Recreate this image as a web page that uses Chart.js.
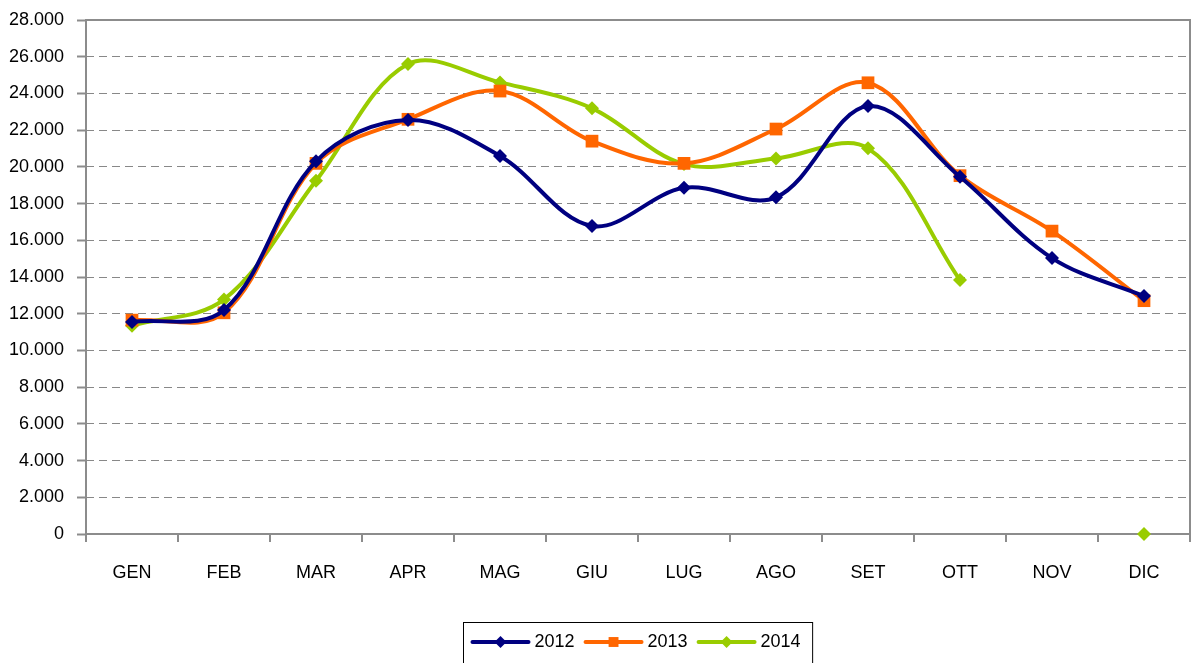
<!DOCTYPE html>
<html><head><meta charset="utf-8">
<script src="https://cdn.jsdelivr.net/npm/chart.js@4/dist/chart.umd.min.js"></script>
<style>html,body{margin:0;padding:0;background:#fff;overflow:hidden}#wrap{width:1192px;height:663px;position:relative}</style>
</head><body><div id="wrap"><canvas id="c" width="1192" height="663"></canvas></div>
<script>
const categories = ['GEN','FEB','MAR','APR','MAG','GIU','LUG','AGO','SET','OTT','NOV','DIC'];
const seriesNames = ['2012','2013','2014'];
const values2012 = [11550, 12200, 20300, 22550, 20590, 16780, 18860, 18340, 23310, 19460, 15030, 12960];
const values2013 = [11650, 12050, 20190, 22590, 24130, 21400, 20190, 22060, 24580, 19520, 16500, 12710];
const values2014 = [11350, 12780, 19240, 25600, 24600, 23190, 20150, 20460, 21010, 13830, null, 0];
const yMin = 0, yMax = 28000, yStep = 2000;

const FONT = 'Arial, "Liberation Sans", sans-serif';
const fmt = v => String(v).replace(/\B(?=(\d{3})+(?!\d))/g, '.');

const styles = [
  {color:'#000080', pointStyle:'rectRot', radius:7, legendRadius:6},
  {color:'#FF6600', pointStyle:'rect', radius:9, legendRadius:7},
  {color:'#99CC00', pointStyle:'rectRot', radius:7, legendRadius:6}
];
const seriesValues = [values2012, values2013, values2014];

const datasets = seriesValues.map((vals, i) => ({
  label: seriesNames[i],
  data: vals,
  borderColor: styles[i].color,
  backgroundColor: styles[i].color,
  pointBackgroundColor: styles[i].color,
  pointBorderColor: styles[i].color,
  pointStyle: styles[i].pointStyle,
  pointRadius: styles[i].radius,
  pointBorderWidth: 0,
  pointHoverRadius: styles[i].radius,
  borderWidth: 4,
  tension: 0.35,
  spanGaps: false,
  clip: false
}));

const plotBorder = {
  id: 'plotBorder',
  beforeDatasetsDraw(chart) {
    const {ctx, chartArea: a} = chart;
    ctx.save();
    ctx.strokeStyle = '#8c8c8c';
    ctx.lineWidth = 2;
    ctx.strokeRect(a.left, a.top, a.right - a.left, a.bottom - a.top);
    ctx.restore();
  }
};

const customLegend = {
  id: 'customLegend',
  afterDraw(chart) {
    const {ctx, chartArea: a} = chart;
    ctx.save();
    ctx.font = '18px ' + FONT;
    const sample = 56, gapText = 6, gapItem = 11, padL = 9, padR = 12;
    let total = padL + padR;
    const widths = chart.data.datasets.map(d => ctx.measureText(d.label).width);
    widths.forEach((w, i) => { total += sample + gapText + w + (i < widths.length - 1 ? gapItem : 0); });
    const cx = (a.left + a.right) / 2;
    const left = Math.round(cx - total / 2) + 0.5;
    const top = 622.5, cy = 642;
    ctx.strokeStyle = '#000';
    ctx.lineWidth = 1;
    ctx.strokeRect(left, top, total, 50);
    let x = left + padL;
    chart.data.datasets.forEach((d, i) => {
      ctx.strokeStyle = d.borderColor;
      ctx.lineWidth = 4;
      ctx.lineCap = 'round';
      ctx.beginPath(); ctx.moveTo(x, cy); ctx.lineTo(x + sample, cy); ctx.stroke();
      ctx.fillStyle = d.borderColor;
      ctx.strokeStyle = d.borderColor;
      Chart.helpers.drawPoint(ctx, {pointStyle: d.pointStyle, radius: styles[i].legendRadius, rotation: 0, borderWidth: 0}, x + sample / 2, cy);
      ctx.fillStyle = '#000';
      ctx.textBaseline = 'middle';
      ctx.textAlign = 'left';
      ctx.fillText(d.label, x + sample + gapText, cy);
      x += sample + gapText + widths[i] + gapItem;
    });
    ctx.restore();
  }
};

new Chart(document.getElementById('c'), {
  type: 'line',
  data: { labels: categories, datasets },
  plugins: [plotBorder, customLegend],
  options: {
    responsive: false,
    animation: false,
    devicePixelRatio: 1,
    layout: { autoPadding: false, padding: { top: 20, right: 2, bottom: 0, left: 0 } },
    plugins: { legend: { display: false }, tooltip: { enabled: false } },
    scales: {
      x: {
        offset: true,
        afterFit: s => { s.height = 129; s.paddingLeft = 0; s.paddingRight = 0; },
        grid: { offset: true, drawOnChartArea: false, drawTicks: true, tickLength: 8, color: '#8c8c8c', lineWidth: 2 },
        border: { display: false },
        ticks: { color: '#000', font: { family: FONT, size: 18 }, padding: 20, maxRotation: 0 }
      },
      y: {
        min: yMin, max: yMax,
        afterFit: s => { s.width = 86; s.paddingTop = 0; s.paddingBottom = 0; },
        grid: { color: '#888', lineWidth: 1, tickLength: 9, tickColor: '#8c8c8c', tickWidth: 2, tickBorderDash: [] },
        border: { display: false, dash: [8, 5] },
        ticks: { stepSize: yStep, color: '#000', font: { family: FONT, size: 18 }, padding: 13, callback: v => fmt(v) }
      }
    }
  }
});
</script></body></html>
